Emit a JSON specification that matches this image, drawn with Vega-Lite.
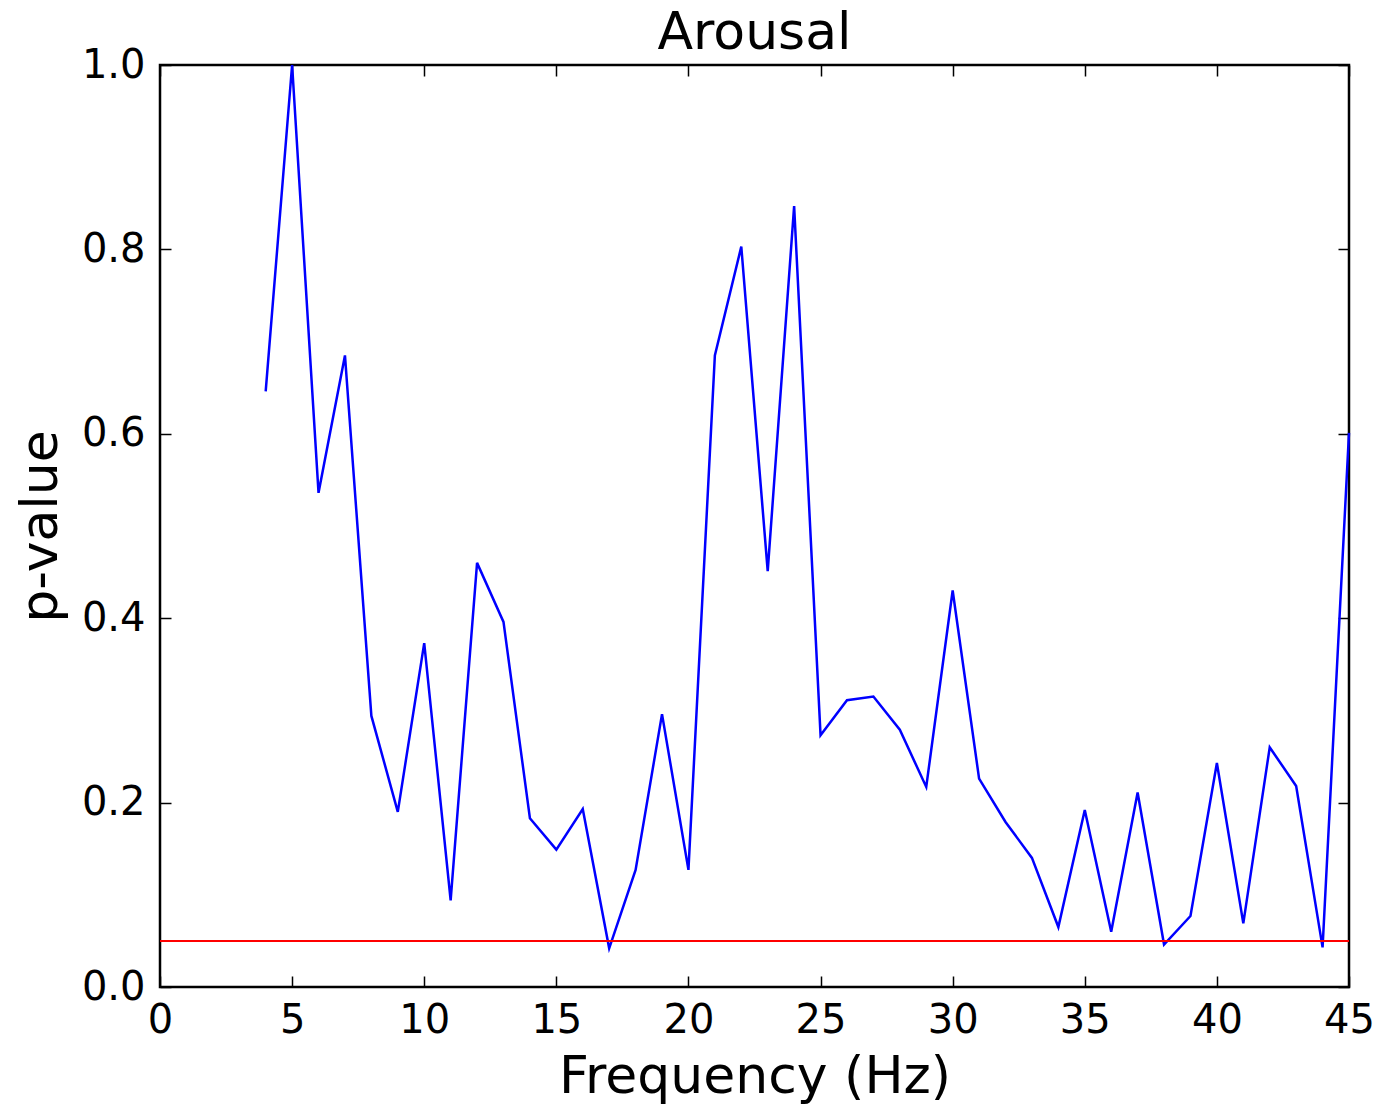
{
  "$schema": "https://vega.github.io/schema/vega-lite/v6.json",
  "width": 1189,
  "height": 922,
  "autosize": {"type": "none"},
  "padding": {"left": 160, "top": 65, "right": 51, "bottom": 118},
  "background": "white",
  "title": {"text": "Arousal", "fontSize": 52, "font": "DejaVu Sans", "fontWeight": "normal", "color": "black", "offset": -15},
  "config": {
    "view": {"stroke": "black", "strokeWidth": 2.5},
    "axis": {
      "labelFont": "DejaVu Sans", "labelFontSize": 40, "labelColor": "black",
      "titleFont": "DejaVu Sans", "titleFontSize": 52, "titleFontWeight": "normal", "titleColor": "black",
      "grid": false, "domain": false, "tickColor": "black", "tickWidth": 1.5, "tickSize": -11,
      "labelFlush": false, "labelOverlap": false
    }
  },
  "data": {"values": [
    {"freq": 4, "pvalue": 0.646}, {"freq": 5, "pvalue": 1.0}, {"freq": 6, "pvalue": 0.536},
    {"freq": 7, "pvalue": 0.685}, {"freq": 8, "pvalue": 0.294}, {"freq": 9, "pvalue": 0.19},
    {"freq": 10, "pvalue": 0.373}, {"freq": 11, "pvalue": 0.094}, {"freq": 12, "pvalue": 0.46},
    {"freq": 13, "pvalue": 0.396}, {"freq": 14, "pvalue": 0.183}, {"freq": 15, "pvalue": 0.149},
    {"freq": 16, "pvalue": 0.193}, {"freq": 17, "pvalue": 0.042}, {"freq": 18, "pvalue": 0.127},
    {"freq": 19, "pvalue": 0.296}, {"freq": 20, "pvalue": 0.127}, {"freq": 21, "pvalue": 0.685},
    {"freq": 22, "pvalue": 0.803}, {"freq": 23, "pvalue": 0.451}, {"freq": 24, "pvalue": 0.847},
    {"freq": 25, "pvalue": 0.273}, {"freq": 26, "pvalue": 0.311}, {"freq": 27, "pvalue": 0.315},
    {"freq": 28, "pvalue": 0.279}, {"freq": 29, "pvalue": 0.217}, {"freq": 30, "pvalue": 0.43},
    {"freq": 31, "pvalue": 0.226}, {"freq": 32, "pvalue": 0.179}, {"freq": 33, "pvalue": 0.14},
    {"freq": 34, "pvalue": 0.065}, {"freq": 35, "pvalue": 0.192}, {"freq": 36, "pvalue": 0.06},
    {"freq": 37, "pvalue": 0.211}, {"freq": 38, "pvalue": 0.046}, {"freq": 39, "pvalue": 0.077},
    {"freq": 40, "pvalue": 0.243}, {"freq": 41, "pvalue": 0.069}, {"freq": 42, "pvalue": 0.26},
    {"freq": 43, "pvalue": 0.218}, {"freq": 44, "pvalue": 0.043}, {"freq": 45, "pvalue": 0.601}
  ]},
  "layer": [
    {
      "mark": {"type": "line", "color": "#0000ff", "strokeWidth": 2.5},
      "encoding": {
        "x": {"field": "freq", "type": "quantitative", "scale": {"domain": [0, 45], "nice": false, "zero": false},
              "axis": {"title": "Frequency (Hz)", "values": [0, 5, 10, 15, 20, 25, 30, 35, 40, 45], "labelPadding": 24, "titlePadding": 11}},
        "y": {"field": "pvalue", "type": "quantitative", "scale": {"domain": [0, 1], "nice": false},
              "axis": {"title": "p-value", "values": [0, 0.2, 0.4, 0.6, 0.8, 1.0], "format": ".1f", "labelPadding": 26, "titlePadding": 14}}
      }
    },
    {
      "mark": {"type": "line", "strokeOpacity": 0},
      "encoding": {
        "x": {"field": "freq", "type": "quantitative", "axis": {"orient": "top", "labels": false, "title": null, "values": [0, 5, 10, 15, 20, 25, 30, 35, 40, 45]}},
        "y": {"field": "pvalue", "type": "quantitative", "axis": {"orient": "right", "labels": false, "title": null, "values": [0, 0.2, 0.4, 0.6, 0.8, 1.0]}}
      }
    },
    {
      "data": {"values": [{"threshold": 0.05}]},
      "mark": {"type": "rule", "color": "#ff0000", "strokeWidth": 2},
      "encoding": {
        "y": {"field": "threshold", "type": "quantitative", "axis": null}
      }
    }
  ],
  "resolve": {"axis": {"x": "independent", "y": "independent"}}
}
